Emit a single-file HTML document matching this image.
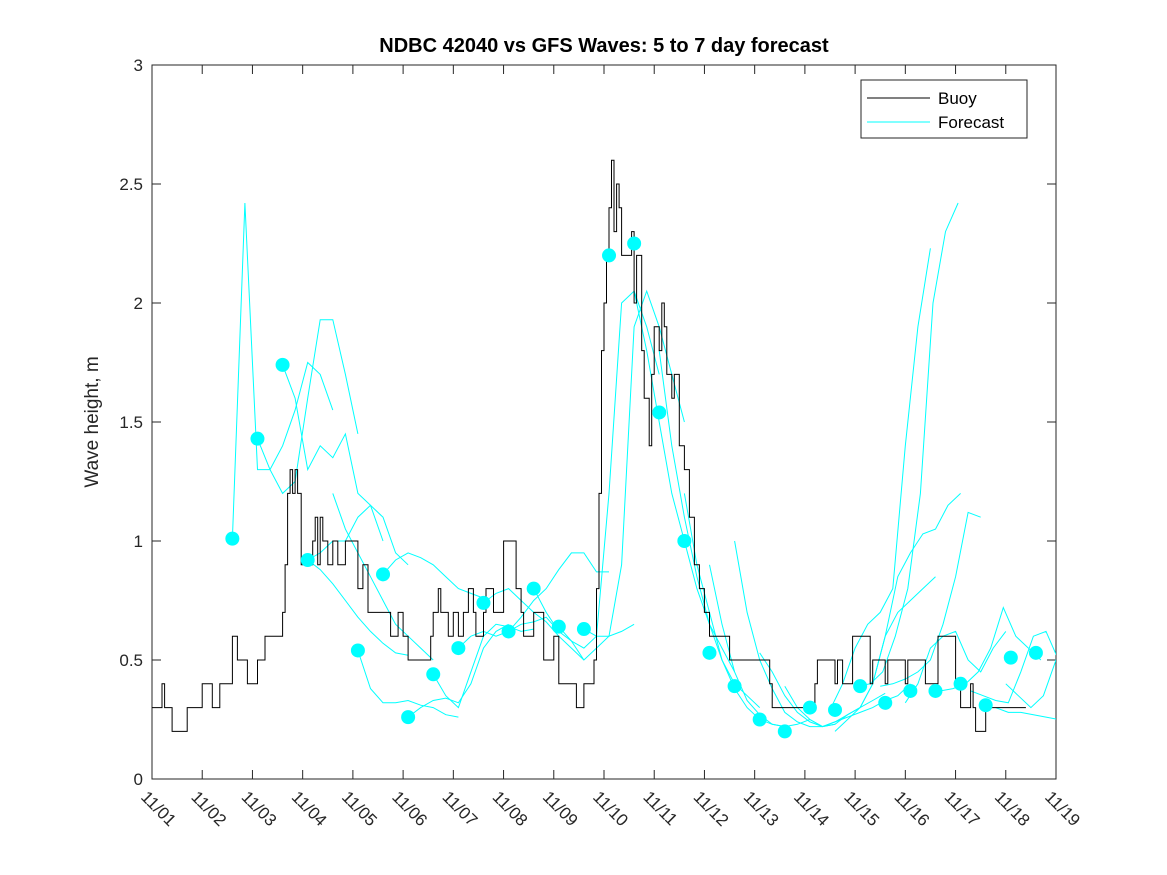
<!DOCTYPE html>
<html><head><meta charset="utf-8"><style>
body{margin:0;background:#fff;}
svg{display:block;font-family:"Liberation Sans","DejaVu Sans",sans-serif;}
</style></head><body>
<svg id="chart" width="1167" height="875" xmlns="http://www.w3.org/2000/svg">
<rect width="1167" height="875" fill="#fff"/>
<text x="604" y="52" text-anchor="middle" font-size="20" font-weight="bold" fill="#000">NDBC 42040 vs GFS Waves: 5 to 7 day forecast</text>
<text transform="translate(98,422) rotate(-90)" text-anchor="middle" font-size="19" fill="#262626">Wave height, m</text>
<g id="plot"></g>
<g>
<rect x="861" y="80" width="166" height="58" fill="#fff" stroke="#262626" stroke-width="1"/>
<line x1="867" y1="98" x2="930" y2="98" stroke="#000" stroke-width="1"/>
<text x="938" y="104" font-size="17" fill="#000">Buoy</text>
<line x1="867" y1="122" x2="930" y2="122" stroke="#00ffff" stroke-width="1"/>
<text x="938" y="128" font-size="17" fill="#000">Forecast</text>
</g>
</svg>
<script>
const xTickLabels=["11/01","11/02","11/03","11/04","11/05","11/06","11/07","11/08","11/09","11/10","11/11","11/12","11/13","11/14","11/15","11/16","11/17","11/18","11/19"];
const yTicks=[0,0.5,1,1.5,2,2.5,3];
const buoyT=[0,0.2,0.25,0.4,0.7,1.0,1.2,1.35,1.6,1.7,1.9,2.1,2.25,2.6,2.65,2.7,2.75,2.8,2.85,2.9,2.97,3.2,3.25,3.3,3.35,3.4,3.5,3.6,3.7,3.85,4.0,4.1,4.2,4.3,4.6,4.75,4.9,5.0,5.1,5.5,5.55,5.6,5.7,5.75,5.9,6.0,6.1,6.2,6.3,6.4,6.45,6.6,6.65,6.8,7.0,7.2,7.25,7.35,7.4,7.6,7.8,8.0,8.1,8.45,8.6,8.8,8.85,8.9,8.95,9.0,9.05,9.1,9.15,9.2,9.25,9.3,9.35,9.5,9.55,9.6,9.65,9.75,9.8,9.9,9.95,10.0,10.1,10.15,10.2,10.25,10.35,10.4,10.5,10.6,10.7,10.8,10.9,11.0,11.1,11.5,12.3,12.35,13.2,13.25,13.6,13.65,13.75,13.95,14.3,14.35,14.6,14.65,15.0,15.05,15.4,15.65,16.0,16.1,16.3,16.35,16.4,16.6,17.0,17.35];
const buoyV=[0.3,0.4,0.3,0.2,0.3,0.4,0.3,0.4,0.6,0.5,0.4,0.5,0.6,0.7,0.9,1.2,1.3,1.2,1.3,1.2,0.9,1.0,1.1,0.9,1.1,1.0,0.9,1.0,0.9,1.0,1.0,0.8,0.9,0.7,0.7,0.6,0.7,0.6,0.5,0.5,0.6,0.7,0.8,0.7,0.6,0.7,0.6,0.7,0.8,0.7,0.6,0.7,0.8,0.7,1.0,1.0,0.8,0.7,0.6,0.7,0.5,0.6,0.4,0.3,0.4,0.5,0.8,1.2,1.8,2.0,2.2,2.4,2.6,2.3,2.5,2.4,2.2,2.2,2.3,2.0,2.2,1.8,1.6,1.4,1.7,1.9,1.8,2.0,1.9,1.7,1.6,1.7,1.4,1.3,1.1,0.9,0.8,0.7,0.6,0.5,0.4,0.3,0.4,0.5,0.4,0.5,0.4,0.6,0.4,0.5,0.4,0.5,0.4,0.5,0.4,0.6,0.4,0.3,0.4,0.3,0.2,0.3,0.3,0.3,0.4];
const dotT=[1.6,2.1,2.6,3.1,4.1,4.6,5.1,5.6,6.1,6.6,7.1,7.6,8.1,8.6,9.1,9.6,10.1,10.6,11.1,11.6,12.1,12.6,13.1,13.6,14.1,14.6,15.1,15.6,16.1,16.6,17.1,17.6];
const dotV=[1.01,1.43,1.74,0.92,0.54,0.86,0.26,0.44,0.55,0.74,0.62,0.80,0.64,0.63,2.2,2.25,1.54,1.0,0.53,0.39,0.25,0.20,0.30,0.29,0.39,0.32,0.37,0.37,0.40,0.31,0.51,0.53];
const fcStart=[1.6,2.1,2.6,3.1,3.1,3.6,4.1,4.6,5.1,5.6,6.1,6.6,7.1,7.6,8.1,8.6,9.6,10.1,10.6,11.1,11.6,12.1,12.6,13.1,13.6,14.1,13.5,14.05,14.5,15.0,15.7,16.3,17.0,16.8];
const fcVals=[
[1.01,2.42,1.3,1.3,1.4,1.55,1.75,1.7,1.55],
[1.43,1.3,1.2,1.25,1.6,1.93,1.93,1.7,1.45],
[1.74,1.6,1.3,1.4,1.35,1.45,1.2,1.15,1.0],
[0.92,0.95,1.0,1.0,1.1,1.15,1.1,0.95,0.9],
[0.92,0.88,0.82,0.75,0.68,0.62,0.57,0.53,0.52],
[1.2,1.05,0.95,0.85,0.75,0.65,0.6,0.55,0.5],
[0.54,0.38,0.32,0.32,0.33,0.31,0.30,0.27,0.26],
[0.86,0.92,0.95,0.93,0.9,0.85,0.8,0.78,0.76],
[0.26,0.3,0.33,0.34,0.32,0.4,0.55,0.62,0.65],
[0.44,0.35,0.3,0.45,0.6,0.65,0.64,0.62,0.63],
[0.55,0.6,0.62,0.6,0.62,0.65,0.66,0.68,0.62],
[0.74,0.78,0.8,0.75,0.7,0.66,0.6,0.55,0.5],
[0.62,0.68,0.75,0.8,0.88,0.95,0.95,0.87,0.87],
[0.8,0.7,0.62,0.58,0.5,0.55,0.6,0.62,0.65],
[0.64,0.58,0.55,0.6,1.2,2.0,2.05,1.9,1.7],
[0.63,0.6,0.6,0.9,1.9,2.05,1.9,1.7,1.5],
[2.05,1.8,1.5,1.2,1.0,0.8,0.65,0.55,0.45],
[1.8,1.4,1.1,0.85,0.65,0.5,0.4,0.35,0.3],
[1.2,0.9,0.7,0.5,0.38,0.3,0.25,0.23,0.22],
[0.9,0.65,0.45,0.33,0.27,0.23,0.22,0.23,0.25],
[1.0,0.7,0.5,0.38,0.28,0.24,0.22,0.22,0.23],
[0.53,0.45,0.35,0.28,0.24,0.22,0.24,0.27,0.3],
[0.39,0.3,0.25,0.22,0.23,0.27,0.3,0.33,0.36],
[0.25,0.22,0.24,0.26,0.28,0.3,0.33,0.35,0.4],
[0.2,0.25,0.3,0.4,0.6,0.7,0.75,0.8,0.85],
[0.3,0.4,0.6,0.85,0.95,1.03,1.05,1.15,1.2],
[0.29,0.4,0.55,0.65,0.7,0.8,1.4,1.9,2.23],
[0.39,0.4,0.45,0.6,0.8,1.2,2.0,2.3,2.42],
[0.39,0.4,0.42,0.45,0.5,0.65,0.85,1.12,1.1],
[0.32,0.4,0.55,0.6,0.62,0.5,0.45,0.55,0.62],
[0.37,0.38,0.4,0.45,0.55,0.72,0.6,0.55,0.5],
[0.37,0.35,0.33,0.32,0.45,0.6,0.62,0.5,0.4],
[0.4,0.35,0.3,0.35,0.5,0.6,0.5,0.42,0.35],
[0.3,0.28,0.28,0.27,0.26,0.25,0.24,0.23,0.22]];
const fcStep=0.25;

const X0=152,X1=1056,Y0=779,Y1=65,XMAX=18,YMAX=3;
const sx=t=>X0+(X1-X0)*t/XMAX;
const sy=v=>Y0-(Y0-Y1)*v/YMAX;
const NS="http://www.w3.org/2000/svg";
const g=document.getElementById('plot');
function mk(tag,attrs){const e=document.createElementNS(NS,tag);for(const k in attrs)e.setAttribute(k,attrs[k]);g.appendChild(e);return e;}

const clip=document.createElementNS(NS,'clipPath');clip.setAttribute('id','cp');
const cr=document.createElementNS(NS,'rect');cr.setAttribute('x',X0);cr.setAttribute('y',Y1);cr.setAttribute('width',X1-X0);cr.setAttribute('height',Y0-Y1);
clip.appendChild(cr);g.appendChild(clip);

const box=mk('rect',{x:X0,y:Y1,width:X1-X0,height:Y0-Y1,fill:'none',stroke:'#262626','stroke-width':1});



yTicks.forEach(v=>{
  const y=sy(v);
  const t1=mk('line',{x1:X0,y1:y,x2:X0+9,y2:y,stroke:'#262626'});
  
  
  const t2=mk('line',{x1:X1,y1:y,x2:X1-9,y2:y,stroke:'#262626'});
  
  
  const tx=mk('text',{x:X0-9,y:y+6,'text-anchor':'end','font-size':17,fill:'#262626'});
  tx.textContent=String(v);
  
  
});
xTickLabels.forEach((lab,i)=>{
  const x=sx(i);
  const t1=mk('line',{x1:x,y1:Y0,x2:x,y2:Y0-9,stroke:'#262626'});
  
  
  const t2=mk('line',{x1:x,y1:Y1,x2:x,y2:Y1+9,stroke:'#262626'});
  
  
  const tx=mk('text',{transform:`translate(${x-12},${Y0+19}) rotate(45)`,'font-size':17,fill:'#262626'});
  tx.textContent=lab;
  
  
});

fcVals.forEach((vals,i)=>{
  const pts=vals.map((v,j)=>sx(fcStart[i]+j*fcStep).toFixed(1)+','+sy(v).toFixed(1)).join(' ');
  const p=mk('polyline',{points:pts,fill:'none',stroke:'#00ffff','stroke-width':1,'clip-path':'url(#cp)'});
  
  
});

let d='';
buoyT.forEach((t,i)=>{
  const x=sx(t).toFixed(1),y=sy(buoyV[i]).toFixed(1);
  if(i===0)d+=`M${x},${y}`;else d+=`H${x}V${y}`;
});
d+=`H${sx(buoyT[buoyT.length-1]+0.05).toFixed(1)}`;
const bp=mk('path',{d:d,fill:'none',stroke:'#000','stroke-width':1});



dotT.forEach((t,i)=>{
  const c=mk('circle',{cx:sx(t),cy:sy(dotV[i]),r:7,fill:'#00ffff'});
  
  
});
</script>
</body></html>
